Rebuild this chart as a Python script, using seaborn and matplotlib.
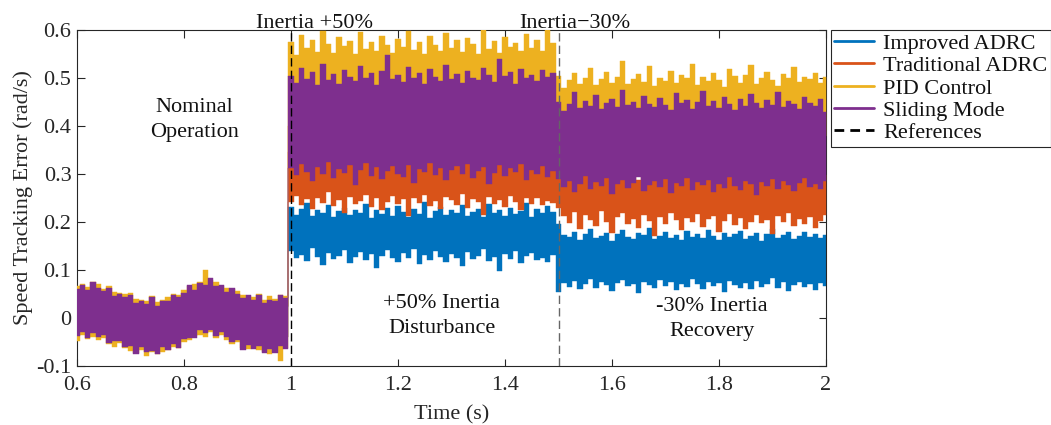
import numpy as np
import pandas as pd
import matplotlib
matplotlib.use("Agg")
import matplotlib.pyplot as plt
from matplotlib.lines import Line2D
import seaborn as sns

# ---------------- data (band envelopes, in mrad/s) ----------------
# time grid: 0.60 ... 2.00 s, step 0.01 s  (0.60-0.99 nominal, 1.00-1.49 +50 %, 1.50-2.00 -30 %)
time_s = np.round(np.arange(0.60, 2.0001, 0.01), 2)

improved_upper = [
    40, 46, 42, 47, 41, 40, 36, 30, 28, 22, 20, 16, 12, 10, 14, 9, 12, 17, 22, 26,
    33, 40, 42, 49, 50, 53, 50, 44, 41, 36, 31, 25, 21, 18, 18, 14, 16, 17, 20, 22,
    232, 215, 228, 240, 212, 225, 218, 236, 210, 222, 230, 214, 226, 219, 238, 208, 224, 216, 229, 213,
    234, 220, 211, 227, 217, 242, 209, 223, 231, 214, 226, 218, 235, 212, 221, 228, 210, 237, 219, 225,
    213, 230, 216, 222, 239, 211, 227, 218, 233, 220,
    195, 172, 168, 180, 163, 175, 186, 166, 171, 178, 160, 174, 183, 169, 165, 177, 172, 188, 164, 170,
    179, 167, 173, 162, 181, 169, 176, 166, 184, 171, 163, 178, 168, 174, 182, 165, 170, 177, 161, 175,
    186, 167, 172, 179, 164, 171, 180, 168, 175, 166, 173]
improved_lower = [
    -20, -16, -14, -18, -17, -22, -25, -28, -33, -36, -40, -44, -46, -48, -50, -49, -46, -44, -40, -34,
    -28, -20, -16, -12, -10, -8, -11, -14, -19, -24, -30, -34, -38, -41, -44, -45, -44, -42, -41, -39,
    140, 125, 132, 118, 145, 128, 110, 136, 122, 130, 142, 115, 127, 138, 120, 133, 104, 129, 141, 124,
    117, 135, 126, 143, 112, 131, 121, 139, 128, 116, 134, 125, 108, 137, 122, 130, 144, 119, 127, 98,
    133, 123, 140, 114, 129, 136, 121, 126, 117, 132,
    55, 72, 65, 78, 60, 70, 82, 63, 75, 68, 57, 73, 80, 66, 71, 52, 76, 69, 62, 79,
    67, 74, 58, 71, 64, 81, 70, 61, 75, 66, 73, 55, 78, 68, 63, 72, 60, 77, 65, 70,
    83, 62, 74, 57, 69, 76, 64, 71, 59, 73, 67]

traditional_upper = [
    44, 42, 48, 45, 44, 38, 38, 33, 26, 25, 22, 17, 14, 12, 12, 11, 14, 18, 24, 28,
    36, 38, 46, 48, 54, 52, 51, 47, 40, 38, 32, 27, 22, 20, 16, 17, 15, 18, 19, 24,
    345, 330, 352, 338, 326, 348, 334, 341, 329, 355, 336, 344, 328, 350, 332, 339, 347, 325, 343, 335,
    351, 331, 340, 327, 346, 337, 333, 349, 324, 342, 336, 353, 330, 338, 345, 328, 341, 334, 348, 326,
    339, 344, 331, 350, 335, 327, 343, 337, 332, 346,
    310, 295, 302, 288, 305, 298, 315, 292, 300, 308, 290, 303, 296, 312, 299, 287, 306, 294, 301, 309,
    293, 304, 297, 316, 291, 302, 307, 295, 300, 289, 311, 298, 304, 293, 306, 299, 290, 313, 296, 303,
    301, 294, 308, 297, 292, 305, 300, 314, 295, 302, 298]
traditional_lower = [
    -22, -18, -17, -16, -20, -20, -26, -30, -32, -38, -41, -42, -47, -50, -49, -51, -48, -42, -39, -35,
    -26, -22, -18, -12, -12, -9, -10, -15, -20, -25, -28, -35, -39, -40, -43, -46, -43, -44, -40, -40,
    242, 255, 236, 248, 228, 251, 240, 262, 233, 246, 219, 253, 238, 244, 257, 231, 249, 225, 241, 254,
    237, 247, 212, 250, 239, 256, 234, 243, 227, 252, 245, 236, 258, 230, 248, 241, 215, 253, 238, 246,
    232, 255, 242, 224, 249, 237, 251, 235, 244, 239,
    230, 212, 198, 220, 185, 215, 205, 192, 222, 200, 178, 210, 218, 195, 206, 188, 214, 202, 170, 211,
    196, 219, 204, 183, 208, 199, 216, 190, 207, 213, 180, 203, 217, 194, 209, 186, 201, 215, 197, 205,
    175, 212, 200, 218, 191, 207, 195, 210, 187, 203, 214]

pid_upper = [
    66, 70, 64, 74, 70, 60, 66, 55, 53, 50, 52, 40, 38, 36, 45, 33, 38, 44, 50, 48,
    58, 66, 70, 74, 100, 80, 75, 66, 62, 60, 57, 48, 45, 44, 50, 38, 45, 40, 48, 46,
    575, 548, 590, 562, 580, 555, 598, 570, 552, 585, 566, 578, 550, 595, 561, 574, 557, 588, 569, 553,
    582, 564, 597, 558, 576, 551, 587, 568, 556, 593, 563, 579, 554, 584, 571, 549, 599, 560, 577, 553,
    586, 565, 573, 557, 591, 562, 580, 556, 600, 572,
    505, 480, 495, 510, 488, 500, 520, 485, 498, 512, 490, 503, 535, 487, 497, 508, 492, 525, 483, 501,
    494, 515, 489, 506, 499, 530, 486, 502, 493, 511, 496, 481, 518, 504, 490, 507, 528, 488, 499, 513,
    495, 484, 509, 500, 522, 491, 503, 497, 510, 489, 502]
pid_lower = [
    -48, -36, -44, -40, -45, -42, -55, -60, -52, -62, -68, -72, -66, -80, -70, -74, -70, -66, -60, -62,
    -50, -46, -38, -35, -40, -30, -42, -36, -46, -55, -50, -62, -64, -60, -66, -70, -75, -68, -90, -62,
    400, 412, 395, 405, 418, 398, 408, 392, 415, 402, 410, 397, 406, 414, 399, 403, 411, 394, 407, 401,
    416, 396, 409, 404, 393, 413, 400, 407, 398, 411, 402, 395, 417, 405, 399, 410, 403, 396, 412, 401,
    408, 397, 414, 404, 400, 409, 395, 406, 413, 402,
    380, 372, 385, 376, 390, 368, 382, 378, 387, 374, 381, 370, 386, 377, 383, 371, 388, 379, 375, 384,
    369, 381, 376, 389, 373, 380, 385, 372, 378, 386, 374, 382, 370, 387, 377, 383, 371, 379, 388, 375,
    381, 373, 384, 378, 376, 386, 372, 380, 385, 374, 379]

sliding_upper = [
    60, 69, 59, 75, 63, 56, 63, 45, 50, 43, 48, 32, 35, 29, 43, 25, 36, 36, 48, 43,
    53, 68, 59, 72, 69, 83, 67, 68, 55, 63, 51, 42, 47, 37, 47, 31, 38, 36, 47, 42,
    505, 490, 520, 498, 512, 485, 530, 495, 508, 488, 517, 502, 493, 525, 499, 510, 486, 515, 548, 497,
    506, 491, 522, 500, 511, 487, 518, 503, 494, 527, 498, 509, 489, 514, 501, 496, 521, 507, 492, 540,
    504, 513, 488, 519, 499, 506, 493, 516, 502, 510,
    450, 432, 445, 470, 438, 452, 441, 465, 435, 448, 456, 440, 475, 443, 451, 437, 462, 446, 439, 458,
    444, 433, 468, 447, 455, 436, 449, 472, 442, 453, 438, 460, 446, 434, 457, 441, 466, 448, 437, 454,
    443, 470, 439, 452, 445, 436, 461, 447, 441, 456, 430]
sliding_lower = [
    -38, -30, -42, -32, -40, -35, -53, -47, -48, -61, -58, -74, -61, -70, -69, -76, -61, -67, -55, -63,
    -43, -42, -42, -26, -32, -26, -38, -29, -39, -49, -46, -66, -57, -64, -59, -72, -65, -73, -59, -64,
    312, 298, 320, 305, 285, 315, 300, 325, 292, 310, 303, 318, 278, 308, 322, 296, 314, 289, 306, 317,
    301, 294, 319, 282, 311, 304, 323, 297, 313, 287, 309, 316, 299, 321, 291, 307, 314, 280, 302, 318,
    295, 312, 305, 320, 288, 309, 301, 316, 293, 306,
    290, 272, 285, 262, 280, 295, 268, 283, 276, 291, 258, 279, 287, 270, 282, 294, 265, 278, 286, 273,
    289, 260, 281, 275, 292, 267, 284, 277, 288, 263, 279, 271, 293, 276, 266, 285, 280, 257, 283, 274,
    290, 269, 286, 278, 264, 282, 291, 273, 279, 268, 285]

series_names = ["Improved ADRC", "Traditional ADRC", "PID Control", "Sliding Mode"]
series_colors = ["#0072BD", "#D95319", "#EDB120", "#7E2F8E"]
series_bands = [(improved_lower, improved_upper), (traditional_lower, traditional_upper),
                (pid_lower, pid_upper), (sliding_lower, sliding_upper)]
reference_times = [1.0, 1.5]

x_ticks = [0.6, 0.8, 1.0, 1.2, 1.4, 1.6, 1.8, 2.0]
x_tick_labels = ["0.6", "0.8", "1", "1.2", "1.4", "1.6", "1.8", "2"]
y_ticks = [-0.1, 0.0, 0.1, 0.2, 0.3, 0.4, 0.5, 0.6]
y_tick_labels = ["-0.1", "0", "0.1", "0.2", "0.3", "0.4", "0.5", "0.6"]

# ---------------- style ----------------
sns.set_theme(style="ticks")
plt.rcParams["font.family"] = ["Liberation Serif", "DejaVu Serif"]
INK = "#262626"

fig = plt.figure(figsize=(10.51, 4.25), dpi=100)
ax = fig.add_axes([77 / 1051, 59 / 425, 749 / 1051, 336 / 425])

for k, (name, (lo, hi), color) in enumerate(zip(series_names, series_bands, series_colors)):
    frame = pd.DataFrame({
        "Time": np.concatenate([time_s, time_s]),
        "Error": np.concatenate([np.asarray(lo), np.asarray(hi)]) / 1000.0,
    })
    sns.lineplot(data=frame, x="Time", y="Error", ax=ax, color=color,
                 estimator="mean", errorbar=("pi", 100), linewidth=0, legend=False,
                 err_kws={"alpha": 1, "step": "mid", "linewidth": 0.3,
                          "edgecolor": color, "zorder": 2 + k})

ref_colors = ["black", "0.4"]
for xr, rc in zip(reference_times, ref_colors):
    ax.axvline(xr, color=rc, lw=1.0, linestyle=(0, (6, 3)), zorder=10)

ax.set_xlim(0.6, 2.0)
ax.set_ylim(-0.1, 0.6)
ax.set_xticks(x_ticks)
ax.set_xticklabels(x_tick_labels)
ax.set_yticks(y_ticks)
ax.set_yticklabels(y_tick_labels)
ax.tick_params(direction="in", top=True, right=True, length=5.4, width=0.8,
               labelsize=16, colors=INK)
ax.tick_params(axis="x", pad=7.5)
ax.tick_params(axis="y", pad=4)
for sp in ax.spines.values():
    sp.set_visible(True)
    sp.set_color(INK)
    sp.set_linewidth(0.8)
ax.set_xlabel("Time (s)", fontsize=16, color=INK, labelpad=7)
ax.set_ylabel("Speed Tracking Error (rad/s)", fontsize=16, color=INK, labelpad=2)

# annotations
txt_kw = dict(fontsize=16, color="#111111", ha="center", va="center", linespacing=1.4)
ax.text(0.82, 0.413, "Nominal\nOperation", **txt_kw)
ax.text(1.282, 0.004, "+50% Inertia\nDisturbance", **txt_kw)
ax.text(1.787, -0.002, "-30% Inertia\nRecovery", **txt_kw)
ax.text(1.043, 0.6035, "Inertia +50%", fontsize=16, color="#111111", ha="center",
        va="baseline", clip_on=False)
ax.text(1.530, 0.6035, "Inertia\u221230%", fontsize=16, color="#111111", ha="center",
        va="baseline", clip_on=False)

# legend
handles = [Line2D([0], [0], color=c, lw=2) for c in series_colors]
handles.append(Line2D([0], [0], color="black", lw=2, linestyle=(0, (3.5, 2.2))))
labels = series_names + ["References"]
leg = ax.legend(handles, labels, loc="upper left", bbox_to_anchor=(1.0067, 1.0),
                borderaxespad=0, fontsize=16, frameon=True, fancybox=False,
                edgecolor=INK, framealpha=1, borderpad=0.15, labelspacing=0.08,
                handlelength=1.8, handletextpad=0.4)
leg.get_frame().set_linewidth(0.8)
for t in leg.get_texts():
    t.set_color("#111111")

fig.savefig("out.png", dpi=100)
